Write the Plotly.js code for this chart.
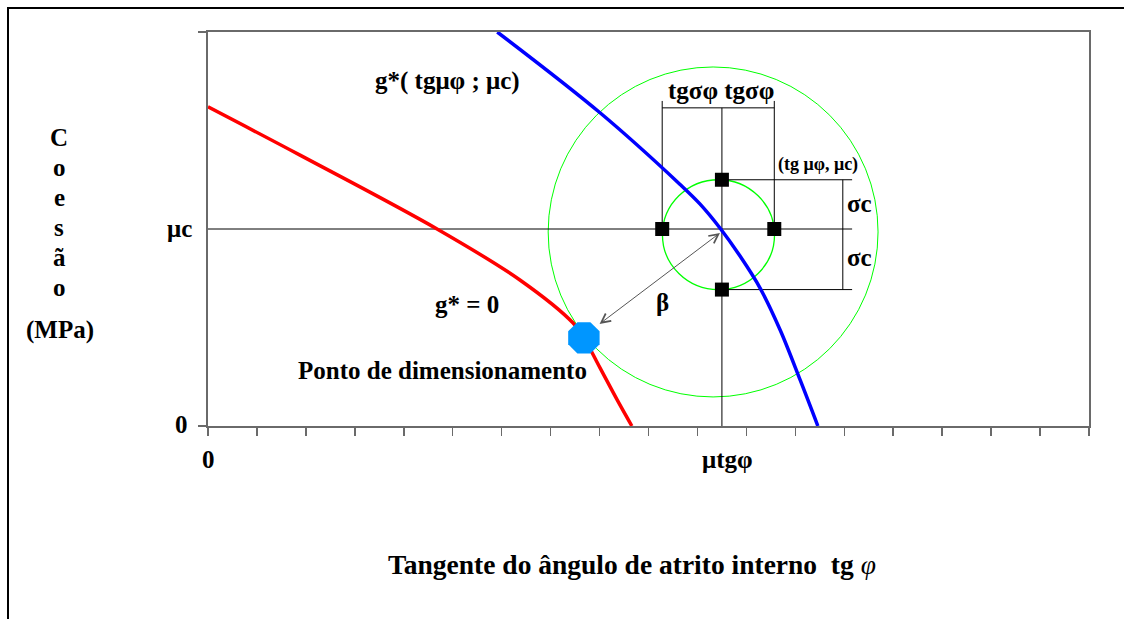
<!DOCTYPE html>
<html>
<head>
<meta charset="utf-8">
<script src="https://cdn.plot.ly/plotly-3.0.1.min.js"></script>
<style>
  html, body { margin: 0; padding: 0; background: #ffffff; }
  #chart { width: 1124px; height: 619px; }
</style>
</head>
<body>
<div id="chart"></div>
<script>
// Limit-state curve g* = 0 (red)
const redX = [0, 1.88, 4.68, 6.38, 7.46, 7.68, 8.01, 8.36, 8.66];
const redY = [6.48, 5.50, 4.00, 2.96, 2.09, 1.79, 1.18, 0.53, 0];

// Curve g*(tgμφ ; μc) through the mean point (blue)
const blueX = [5.91, 8.01, 9.64, 10.05, 10.46, 10.87, 11.28, 11.69, 12.10, 12.46];
const blueY = [8.0, 6.36, 4.91, 4.51, 4.02, 3.45, 2.80, 1.95, 0.93, 0];

// Mean values
const muTg = 10.5;   // μtgφ
const muC = 4.0;     // μc

// Mean ± one standard deviation points
const sqX = [10.5, 9.28, 11.57, 10.5];
const sqY = [5.0, 4.0, 4.0, 2.77];

// Design point
const designX = [7.68];
const designY = [1.79];

// Dimension-line extents
const sigmaTopY = 6.46;      // horizontal tgσφ bar
const sigmaTickTopY = 6.6;   // top of the outer vertical bars
const rightDimX = 13.16;     // right end of the horizontal reference lines
const sigmaCX = 12.97;       // vertical σc bar

// Reliability circles
const innerC = { x: 10.43, y: 3.885, rx: 1.145, ry: 1.115 };
const outerC = { x: 10.32, y: 3.94, rx: 3.37, ry: 3.35 };

// Plot area in pixels (for placing labels outside the axes)
const PL = 208, PR = 1089, PT = 32, PB = 426;
const px = v => (v - PL) / (PR - PL);
const py = v => (PB - v) / (PB - PT);

const serif = 'Liberation Serif, Times New Roman, serif';
const boldFont = (s) => ({ family: serif, size: s, color: '#000000', weight: 700 });

const traces = [
  {
    x: redX, y: redY, type: 'scatter', mode: 'lines',
    line: { color: '#ff0000', width: 3.5, shape: 'spline', smoothing: 1 },
    hoverinfo: 'skip', showlegend: false
  },
  {
    x: blueX, y: blueY, type: 'scatter', mode: 'lines',
    line: { color: '#0000ff', width: 3.5, shape: 'spline', smoothing: 1 },
    hoverinfo: 'skip', showlegend: false
  },
  {
    x: sqX, y: sqY, type: 'scatter', mode: 'markers',
    marker: { symbol: 'square', size: 14, color: '#000000' },
    hoverinfo: 'skip', showlegend: false
  },
  {
    x: designX, y: designY, type: 'scatter', mode: 'markers',
    marker: { symbol: 'octagon', size: 34, color: '#0096ff', line: { width: 0 } },
    hoverinfo: 'skip', showlegend: false
  }
];

const thin = { color: '#000000', width: 1 };
const lineShape = (x0, y0, x1, y1) => ({ type: 'line', xref: 'x', yref: 'y', x0, y0, x1, y1, line: thin, layer: 'below' });

const shapes = [
  // circles
  { type: 'circle', xref: 'x', yref: 'y', x0: outerC.x - outerC.rx, x1: outerC.x + outerC.rx,
    y0: outerC.y - outerC.ry, y1: outerC.y + outerC.ry, line: { color: '#00ff00', width: 1 }, layer: 'below' },
  { type: 'circle', xref: 'x', yref: 'y', x0: innerC.x - innerC.rx, x1: innerC.x + innerC.rx,
    y0: innerC.y - innerC.ry, y1: innerC.y + innerC.ry, line: { color: '#00ff00', width: 1.3 }, layer: 'below' },
  // reference lines through the mean
  lineShape(0, muC, rightDimX, muC),
  lineShape(muTg, 0, muTg, sigmaTopY),
  // tgσφ dimension
  lineShape(sqX[1], sqY[1], sqX[1], sigmaTickTopY),
  lineShape(sqX[2], sqY[2], sqX[2], sigmaTickTopY),
  lineShape(sqX[1], sigmaTopY, sqX[2], sigmaTopY),
  // σc dimension
  lineShape(sqX[0], sqY[0], rightDimX, sqY[0]),
  lineShape(sqX[3], sqY[3], rightDimX, sqY[3]),
  lineShape(sigmaCX, sqY[3], sigmaCX, sqY[0]),
  // outer frame of the figure
  { type: 'line', xref: 'paper', yref: 'paper', x0: px(8), x1: px(8), y0: py(8), y1: py(619),
    line: { color: '#000000', width: 2 } },
  { type: 'line', xref: 'paper', yref: 'paper', x0: px(7), x1: px(1124), y0: py(8), y1: py(8),
    line: { color: '#000000', width: 2 } }
];

const ann = [];
const addPx = (text, x, y, size, extra) => ann.push(Object.assign({
  text, x: px(x), y: py(y), xref: 'paper', yref: 'paper', showarrow: false, font: boldFont(size),
  xanchor: 'center', yanchor: 'middle'
}, extra || {}));

// labels in the plot
addPx('g*( tgμφ ; μc)', 447, 81, 25);
addPx('tgσφ tgσφ', 721, 90, 25);
addPx('(tg μφ, μc)', 818, 164, 18);
addPx('σc', 859, 203, 25);
addPx('σc', 859, 257, 25);
addPx('β', 662, 302, 25);
addPx('g* = 0', 467, 304, 25);
addPx('Ponto de dimensionamento', 442, 370, 25);

// axis labels
addPx('μc', 194, 228, 25, { xanchor: 'right' });
addPx('0', 190, 424, 25, { xanchor: 'right' });
addPx('0', 208, 460, 25);
addPx('μtgφ', 727, 459, 25);

// x title
ann.push({
  text: '<b>Tangente do ângulo de atrito interno\u00a0\u00a0tg</b>\u00a0<i>φ</i>',
  x: px(632), y: py(564), xref: 'paper', yref: 'paper', showarrow: false,
  font: { family: serif, size: 27.5, color: '#000000' }, xanchor: 'center', yanchor: 'middle'
});

// y title, one letter per line
const yLetters = ['C', 'o', 'e', 's', 'ã', 'o'];
yLetters.forEach((ch, i) => addPx(ch, 59, 137 + i * 30, 25));
addPx('(MPa)', 60, 330, 25);

// reliability index arrow between the mean point and the design point
ann.push({
  x: 10.46, y: 3.92, ax: 7.97, ay: 2.05, xref: 'x', yref: 'y', axref: 'x', ayref: 'y',
  text: '', showarrow: true, arrowside: 'end+start', arrowhead: 5, startarrowhead: 5,
  arrowsize: 1.8, startarrowsize: 1.8, arrowwidth: 1, arrowcolor: '#555555', standoff: 0, startstandoff: 0
});

const layout = {
  width: 1124, height: 619, autosize: false,
  margin: { l: PL, r: 1124 - PR, t: PT, b: 619 - PB, pad: 0 },
  paper_bgcolor: '#ffffff', plot_bgcolor: '#ffffff',
  showlegend: false,
  xaxis: {
    range: [0, 18], showgrid: false, zeroline: false,
    showline: true, mirror: true, linecolor: '#6a6a6a', linewidth: 1.6,
    ticks: 'outside', tickvals: [0,1,2,3,4,5,6,7,8,9,10,11,12,13,14,15,16,17,18],
    ticklen: 8, tickwidth: 1.5, tickcolor: '#6a6a6a', showticklabels: false, fixedrange: true
  },
  yaxis: {
    range: [0, 8], showgrid: false, zeroline: false,
    showline: true, mirror: true, linecolor: '#6a6a6a', linewidth: 1.6,
    ticks: 'outside', tickvals: [0, 8], ticklen: 8, tickwidth: 1.5, tickcolor: '#6a6a6a',
    showticklabels: false, fixedrange: true
  },
  shapes, annotations: ann
};

Plotly.newPlot('chart', traces, layout, { staticPlot: true, displayModeBar: false });
</script>
</body>
</html>
